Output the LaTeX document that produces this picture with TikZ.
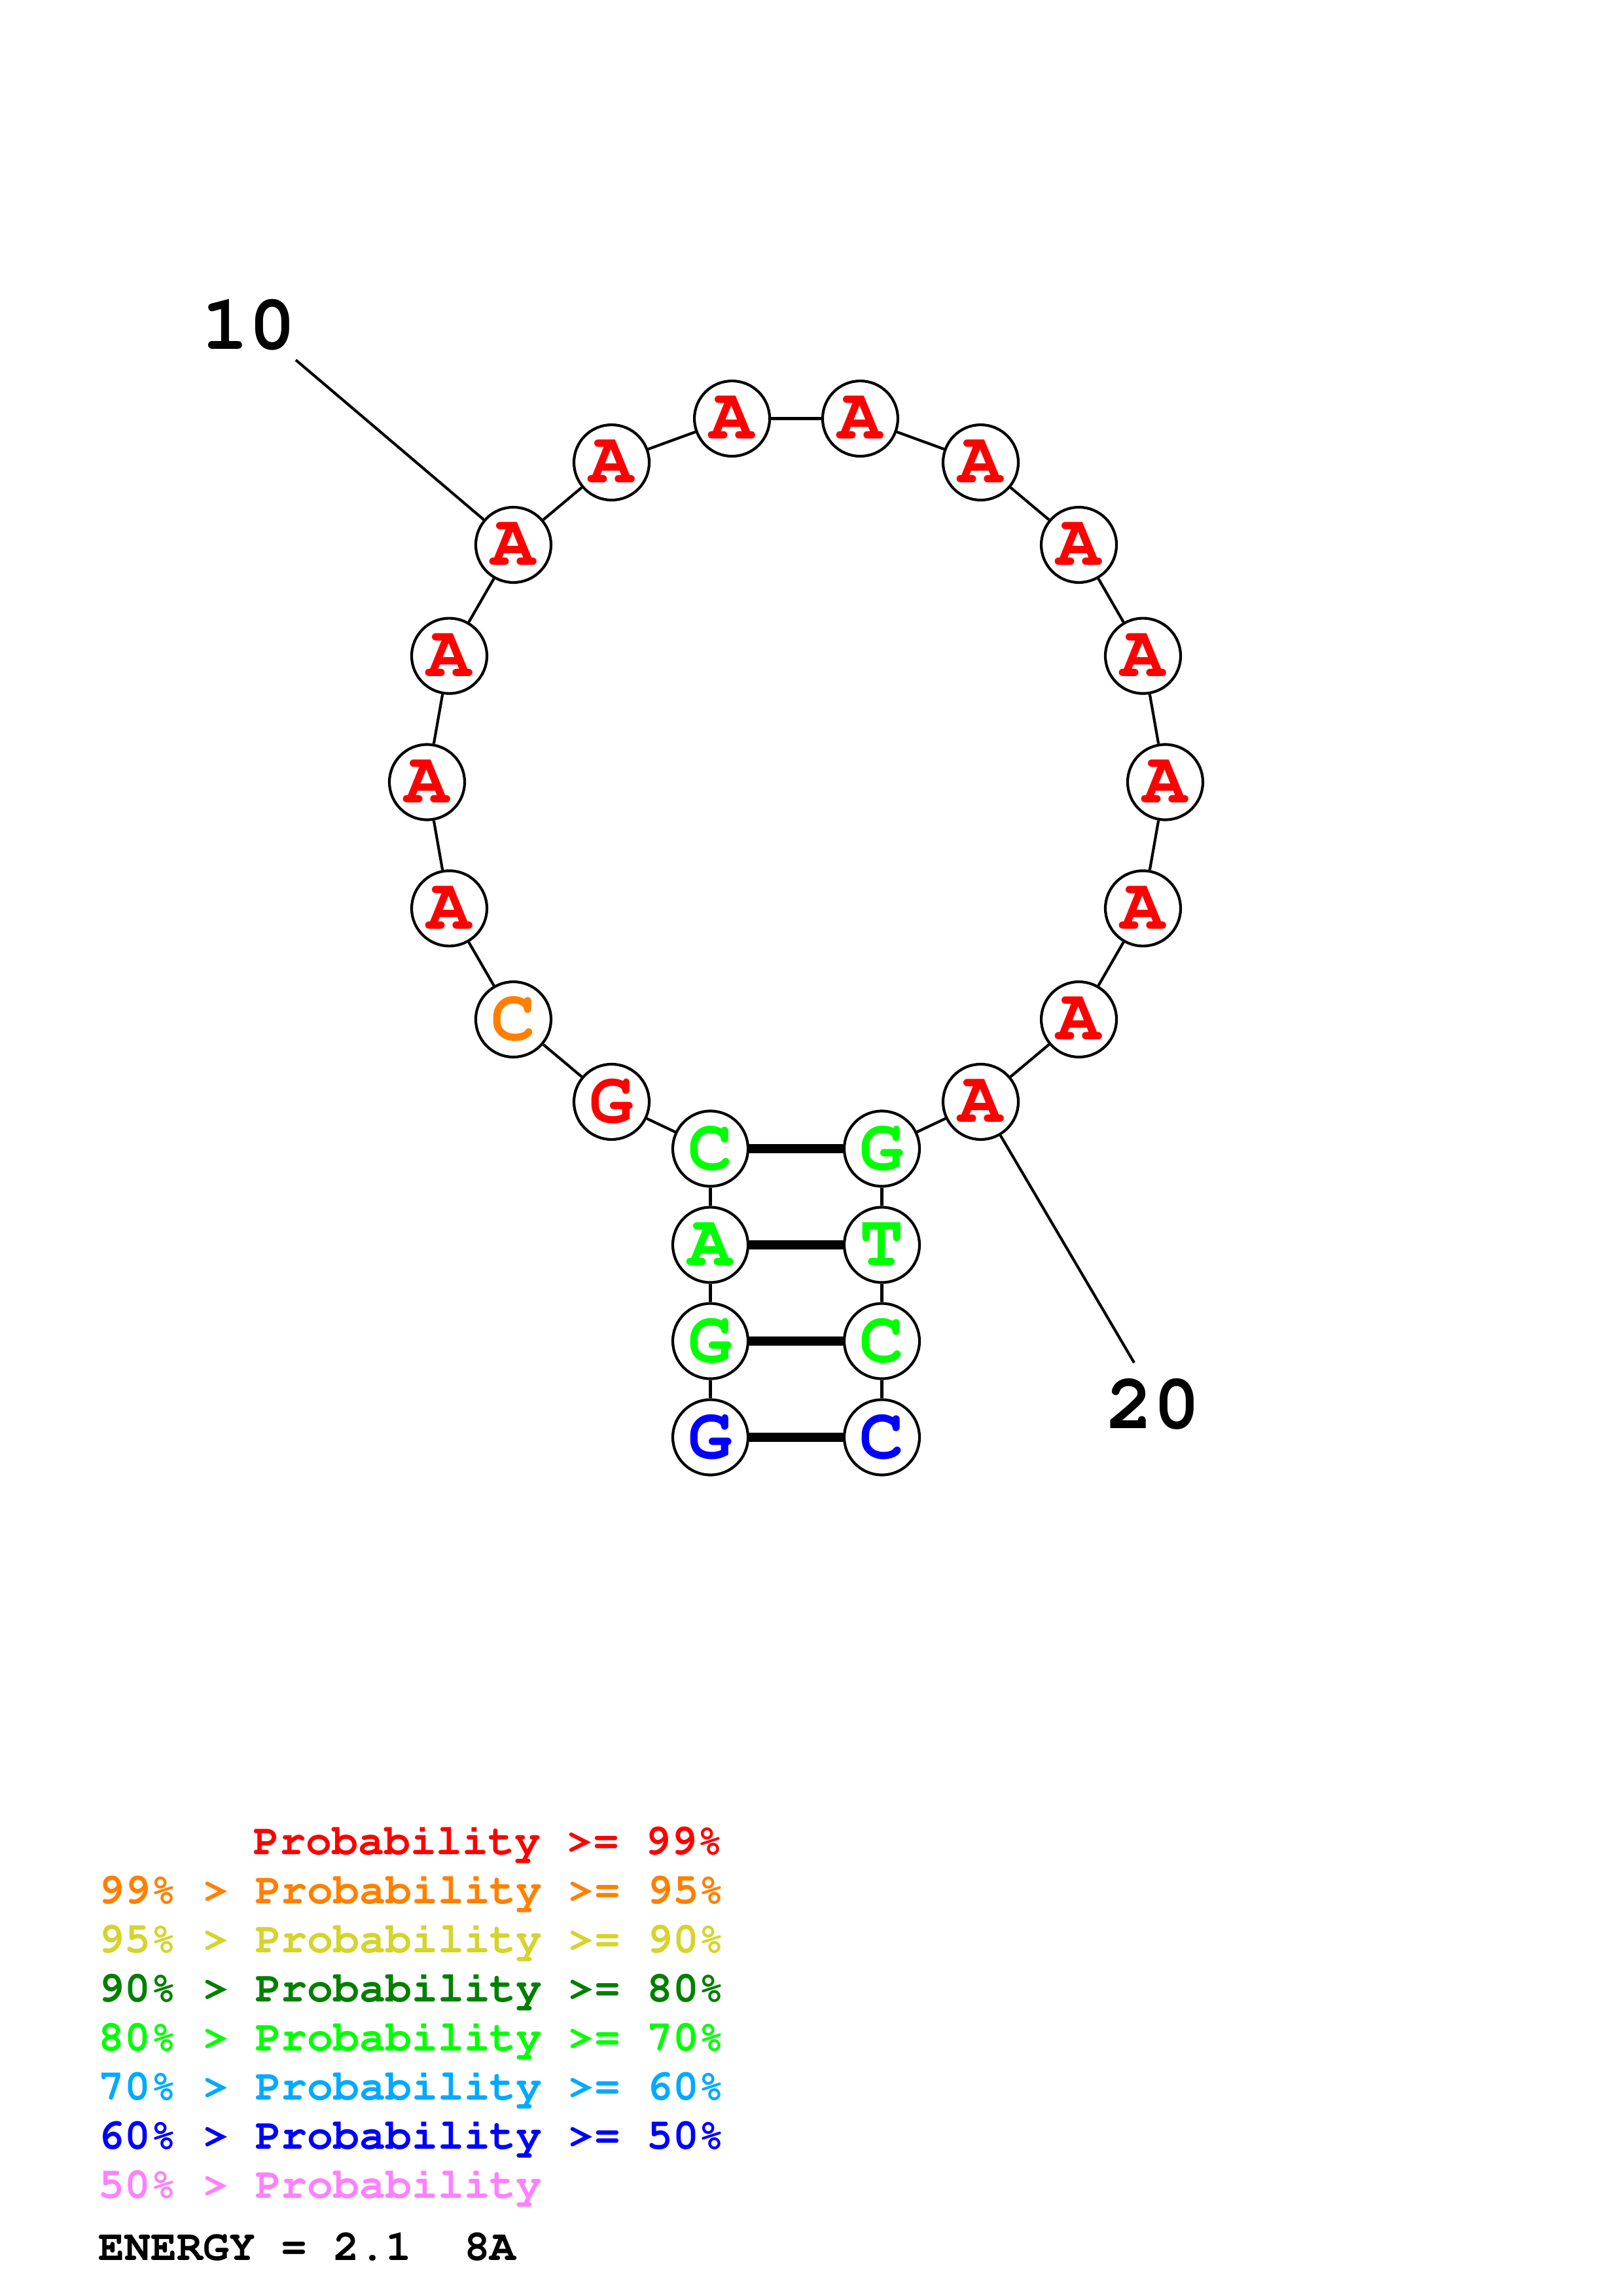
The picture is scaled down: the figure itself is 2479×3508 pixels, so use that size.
\documentclass[tikz,border=0pt]{standalone}
\usepackage[T1]{fontenc}
\newcommand\courb{\fontencoding{T1}\fontfamily{pcr}\fontseries{b}\selectfont}
\usetikzlibrary{calc}
\definecolor{pr}{HTML}{FF0000}
\definecolor{po}{HTML}{FF8000}
\definecolor{py}{HTML}{D4D42C}
\definecolor{pdg}{HTML}{008000}
\definecolor{pg}{HTML}{00FF00}
\definecolor{psb}{HTML}{00AAFF}
\definecolor{pb}{HTML}{0000FF}
\definecolor{pp}{HTML}{FF80FF}
\begin{document}
\begin{tikzpicture}[x=0.24pt,y=-0.24pt,
  base/.style={circle,draw=black,line width=1pt,fill=white,minimum size=27.6pt,inner sep=0pt,
    font=\fontsize{27}{27}\courb},
  backbone/.style={line width=1pt},
  bond/.style={line width=3.2pt},
  numlabel/.style={inner sep=0pt,font=\fontsize{28.7}{28.7}\courb},
  legend/.style={anchor=base west,inner sep=0pt,font=\fontsize{15.95}{19}\courb}]
\path[use as bounding box] (0,0) rectangle (2479,3508);
\coordinate (O) at (1216.5,1195);
% stem
\node[base,text=pb] (n1) at (1085.5,2196) {G};
\node[base,text=pg] (n2) at (1085.5,2049) {G};
\node[base,text=pg] (n3) at (1085.5,1902) {A};
\node[base,text=pg] (n4) at (1085.5,1755) {C};
\node[base,text=pg] (n21) at (1347.5,1755) {G};
\node[base,text=pg] (n22) at (1347.5,1902) {T};
\node[base,text=pg] (n23) at (1347.5,2049) {C};
\node[base,text=pb] (n24) at (1347.5,2196) {C};
% loop
\node[base,text=pr] (n5) at ($(O)+(-240:564)$) {G};
\node[base,text=po] (n6) at ($(O)+(-220:564)$) {C};
\node[base,text=pr] (n7) at ($(O)+(-200:564)$) {A};
\node[base,text=pr] (n8) at ($(O)+(-180:564)$) {A};
\node[base,text=pr] (n9) at ($(O)+(-160:564)$) {A};
\node[base,text=pr] (n10) at ($(O)+(-140:564)$) {A};
\node[base,text=pr] (n11) at ($(O)+(-120:564)$) {A};
\node[base,text=pr] (n12) at ($(O)+(-100:564)$) {A};
\node[base,text=pr] (n13) at ($(O)+(-80:564)$) {A};
\node[base,text=pr] (n14) at ($(O)+(-60:564)$) {A};
\node[base,text=pr] (n15) at ($(O)+(-40:564)$) {A};
\node[base,text=pr] (n16) at ($(O)+(-20:564)$) {A};
\node[base,text=pr] (n17) at ($(O)+(0:564)$) {A};
\node[base,text=pr] (n18) at ($(O)+(20:564)$) {A};
\node[base,text=pr] (n19) at ($(O)+(40:564)$) {A};
\node[base,text=pr] (n20) at ($(O)+(60:564)$) {A};
% backbone
\foreach \a/\b in {1/2,2/3,3/4,4/5,5/6,6/7,7/8,8/9,9/10,10/11,11/12,12/13,13/14,14/15,15/16,16/17,17/18,18/19,19/20,20/21,21/22,22/23,23/24}
  \draw[backbone] (n\a) -- (n\b);
% pairs
\foreach \a/\b in {4/21,3/22,2/23,1/24}
  \draw[bond] (n\a) -- (n\b);
% numbering
\node[numlabel] (t10) at (380.5,497) {10};
\coordinate (l10) at (452,550);
\draw[backbone] (l10) -- (n10);
\node[numlabel] (t20) at (1762,2146) {20};
\coordinate (l20) at (1733,2082);
\draw[backbone] (l20) -- (n20);
% legend
\node[legend,text=pr] (g0) at (387,2833) {Probability >= 99\%};
\node[legend,text=po] (g1) at (150,2908) {99\% > Probability >= 95\%};
\node[legend,text=py] (g2) at (150,2983) {95\% > Probability >= 90\%};
\node[legend,text=pdg] (g3) at (150,3058) {90\% > Probability >= 80\%};
\node[legend,text=pg] (g4) at (150,3133) {80\% > Probability >= 70\%};
\node[legend,text=psb] (g5) at (150,3208) {70\% > Probability >= 60\%};
\node[legend,text=pb] (g6) at (150,3283) {60\% > Probability >= 50\%};
\node[legend,text=pp] (g7) at (150,3358) {50\% > Probability};
\node[legend,text=black] (en) at (150,3453) {ENERGY = 2.1~~8A};
\end{tikzpicture}
\end{document}
